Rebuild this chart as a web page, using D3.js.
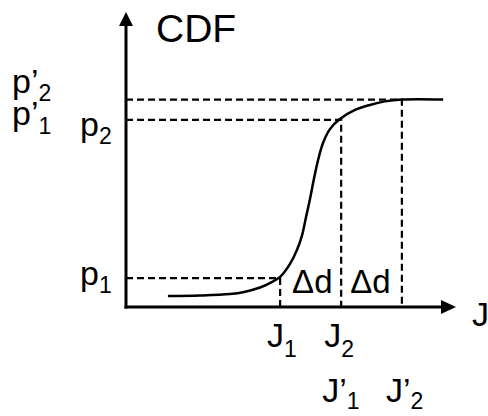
<!DOCTYPE html>
<html>
<head>
<meta charset="utf-8">
<script src="https://cdn.jsdelivr.net/npm/d3@7"></script>
<style>
  html, body { margin: 0; padding: 0; background: #fff; }
  text { font-family: "Liberation Sans", Arial, sans-serif; fill: #000; }
</style>
</head>
<body>
<svg id="chart" width="488" height="416"></svg>
<script>
// ---- data (in abstract units, 0..100 on each axis) ----
const curveX = [12.7, 22.4, 31.5, 35.8, 40.6, 43.6, 46.7, 49.7, 51.8, 53.3, 54.5, 55.8, 57.0, 58.2, 59.7, 61.8, 64.8, 69.4, 73.9, 78.5, 83.6, 96.1];
const curveY = [3.7, 3.9, 4.4, 5.1, 6.6, 8.1, 10.2, 14.6, 19.3, 24.1, 30.2, 36.9, 43.7, 49.8, 55.6, 60.3, 63.7, 66.8, 68.5, 69.7, 70.3, 70.3];
const levelNames = ["p1", "p2", "p2'"];
const levelValues = [9.8, 63.4, 70.3];
const markNames = ["J1", "J2", "J2'"];
const markValues = [46.7, 65.2, 83.6];
const axisTitleY = "CDF";
const axisTitleX = "J";

// ---- scales ----
const x = d3.scaleLinear().domain([0, 100]).range([126, 456]);
const y = d3.scaleLinear().domain([0, 100]).range([307, 12]);

const svg = d3.select("#chart");
const line = d3.line().x(d => x(d[0])).y(d => y(d[1]));

// dashed guide lines
levelValues.forEach((p, i) => {
  const j = markValues[i];
  svg.append("path")
    .attr("d", line([[0, p], [j, p], [j, 0]]))
    .attr("fill", "none").attr("stroke", "#000")
    .attr("stroke-width", 2.2).attr("stroke-dasharray", "7,4");
});

// curve
svg.append("path")
  .datum(curveX.map((v, i) => [v, curveY[i]]))
  .attr("d", d3.line().x(d => x(d[0])).y(d => y(d[1])).curve(d3.curveCatmullRom.alpha(0.5)))
  .attr("fill", "none").attr("stroke", "#000").attr("stroke-width", 2.5);

// axes with arrows
const x0 = x(0), y0 = y(0), xMax = x(100), yMax = y(100);
svg.append("line").attr("x1", x0).attr("y1", y0 + 1.5).attr("x2", x0).attr("y2", yMax + 12)
  .attr("stroke", "#000").attr("stroke-width", 3);
svg.append("line").attr("x1", x0 - 1.5).attr("y1", y0).attr("x2", xMax - 13).attr("y2", y0)
  .attr("stroke", "#000").attr("stroke-width", 3);
svg.append("path").attr("d", `M${x0},${yMax} L${x0 - 7},${yMax + 14} L${x0 + 7},${yMax + 14} Z`).attr("fill", "#000");
svg.append("path").attr("d", `M${xMax},${y0} L${xMax - 15},${y0 - 7} L${xMax - 15},${y0 + 7} Z`).attr("fill", "#000");

// labels
const MAIN = 34, SUB = 23;
function label(px, py, main, prime, sub, dy) {
  const t = svg.append("text").attr("x", px).attr("y", py).attr("font-size", MAIN);
  t.append("tspan").text(main + (prime ? "\u2019" : ""));
  if (sub) t.append("tspan").attr("font-size", SUB).attr("dy", dy).text(sub);
  return t;
}
function parse(name) {
  const prime = name.endsWith("'");
  const base = prime ? name.slice(0, -1) : name;
  return { main: base[0], sub: base.slice(1), prime };
}

svg.append("text").attr("x", 156).attr("y", 42).attr("font-size", 39).text(axisTitleY);
svg.append("text").attr("x", 472).attr("y", y0 + 19).attr("font-size", MAIN).text(axisTitleX);

// y-level labels
const p1 = parse(levelNames[0]), p2 = parse(levelNames[1]), p2p = parse(levelNames[2]);
label(x0 - 46, y(levelValues[0]) + 7, p1.main, p1.prime, p1.sub, 8);
label(x0 - 46, y(levelValues[1]) + 16, p2.main, p2.prime, p2.sub, 8);
label(x0 - 114, y(levelValues[2]) - 7, p2p.main, p2p.prime, p2p.sub, 8);
label(x0 - 114, y(levelValues[2]) + 25, p2p.main, true, p1.sub, 9);

// x-mark labels
const j1 = parse(markNames[0]), j2 = parse(markNames[1]), j2p = parse(markNames[2]);
label(x(markValues[0]) - 13, y0 + 40, j1.main, j1.prime, j1.sub, 10);
label(x(markValues[1]) - 17, y0 + 40, j2.main, j2.prime, j2.sub, 10);
label(x(markValues[1]) - 19, y0 + 95, j2p.main, true, j1.sub, 7);
label(x(markValues[2]) - 16, y0 + 95, j2p.main, j2p.prime, j2p.sub, 7);

// Δd labels
svg.append("text").attr("x", x(markValues[0]) + 12).attr("y", y0 - 14).attr("font-size", 33).text("\u0394d");
svg.append("text").attr("x", x(markValues[1]) + 9).attr("y", y0 - 14).attr("font-size", 33).text("\u0394d");
</script>
</body>
</html>
